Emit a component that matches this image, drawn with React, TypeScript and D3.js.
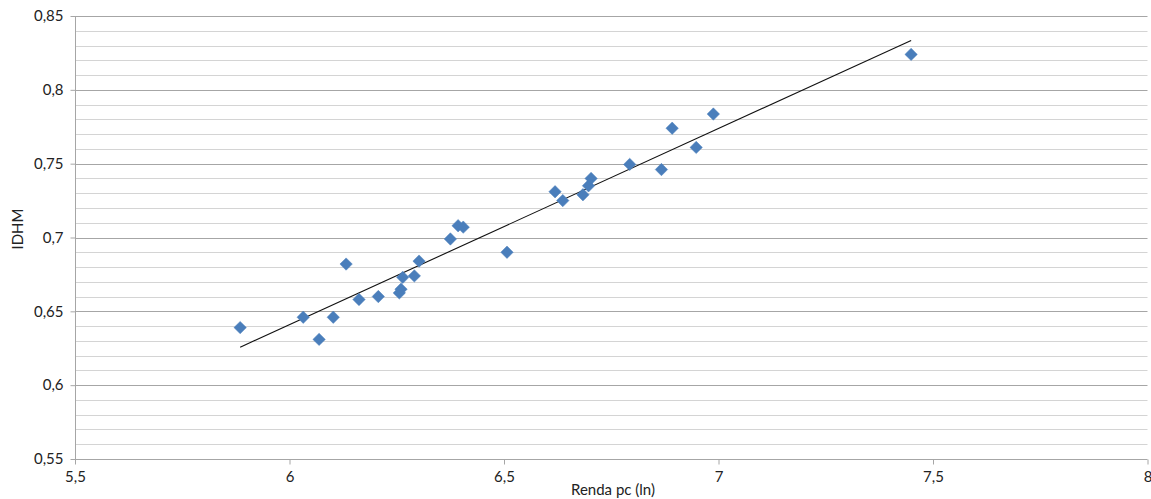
import React, { useEffect, useRef } from "react";
import * as d3 from "d3";

// Renda pc (ln) per municipality
const rendaLn = [
  5.885, 6.032, 6.069, 6.102, 6.132, 6.162, 6.207, 6.256, 6.26, 6.264,
  6.291, 6.302, 6.375, 6.393, 6.405, 6.507, 6.619, 6.637, 6.684, 6.697,
  6.703, 6.793, 6.867, 6.948, 6.892, 6.988, 7.449,
];
// IDHM for the same municipalities
const idhm = [
  0.639, 0.646, 0.631, 0.646, 0.682, 0.658, 0.66, 0.6625, 0.665, 0.673,
  0.674, 0.684, 0.699, 0.708, 0.707, 0.69, 0.731, 0.725, 0.729, 0.735,
  0.74, 0.7495, 0.746, 0.761, 0.774, 0.7836, 0.824,
];
const xTicks = [5.5, 6, 6.5, 7, 7.5, 8];
const yTicks = [0.55, 0.6, 0.65, 0.7, 0.75, 0.8, 0.85];

const W = 1151;
const H = 499;

const fmt = (v: number) => String(+v.toFixed(2)).replace(".", ",");

const App: React.FC = () => {
  const svgRef = useRef<SVGSVGElement | null>(null);

  useEffect(() => {
    const svg = d3.select(svgRef.current);
    svg.selectAll("*").remove();

    const margin = { top: 16, right: 3.5, bottom: 40, left: 75 };
    const x = d3.scaleLinear().domain([5.5, 8]).range([margin.left, W - margin.right]);
    const y = d3.scaleLinear().domain([0.55, 0.85]).range([H - margin.bottom, margin.top]);

    const font = "Lato, 'Open Sans', sans-serif";
    const fs = "15px";

    // minor gridlines every 0.01
    const minor = d3.range(0.56, 0.85, 0.01).filter(
      (v) => Math.abs(v * 20 - Math.round(v * 20)) > 0.01
    );
    svg
      .append("g")
      .selectAll("line")
      .data(minor)
      .enter()
      .append("line")
      .attr("x1", x(5.5))
      .attr("x2", x(8))
      .attr("y1", (d) => Math.round(y(d)) + 0.5)
      .attr("y2", (d) => Math.round(y(d)) + 0.5)
      .attr("stroke", "#d4d4d4")
      .attr("stroke-width", 1);

    // major gridlines
    svg
      .append("g")
      .selectAll("line")
      .data(yTicks.slice(1))
      .enter()
      .append("line")
      .attr("x1", x(5.5))
      .attr("x2", x(8))
      .attr("y1", (d) => Math.round(y(d)) + 0.5)
      .attr("y2", (d) => Math.round(y(d)) + 0.5)
      .attr("stroke", "#a6a6a6")
      .attr("stroke-width", 1);

    // axes
    const yAxis = svg
      .append("g")
      .attr("transform", `translate(${Math.round(x(5.5)) + 0.5},0)`)
      .call(
        d3.axisLeft(y).tickValues(yTicks).tickSize(5).tickPadding(7).tickFormat((d) => fmt(+d))
      );
    const xAxis = svg
      .append("g")
      .attr("transform", `translate(0,${Math.round(y(0.55)) + 0.5})`)
      .call(
        d3.axisBottom(x).tickValues(xTicks).tickSize(5).tickPadding(7).tickFormat((d) => fmt(+d))
      );
    [xAxis, yAxis].forEach((a) => {
      a.selectAll("path,line").attr("stroke", "#a6a6a6");
      a.selectAll("text")
        .attr("fill", "#222")
        .style("font-family", font)
        .style("font-size", fs);
    });
    xAxis.select(".domain").attr("d", `M${x(5.5)},0H${x(8)}`);
    yAxis.select(".domain").attr("d", `M0,${y(0.55)}V${y(0.85)}`);

    // trend line (least squares)
    const mx = d3.mean(rendaLn)!;
    const my = d3.mean(idhm)!;
    let sxy = 0;
    let sxx = 0;
    rendaLn.forEach((v, i) => {
      sxy += (v - mx) * (idhm[i] - my);
      sxx += (v - mx) * (v - mx);
    });
    const slope = sxy / sxx;
    const icpt = my - slope * mx;
    const [x0, x1] = d3.extent(rendaLn) as [number, number];
    svg
      .append("line")
      .attr("x1", x(x0))
      .attr("y1", y(icpt + slope * x0))
      .attr("x2", x(x1))
      .attr("y2", y(icpt + slope * x1))
      .attr("stroke", "#111")
      .attr("stroke-width", 1.1);

    // diamonds
    const r = 6.2;
    svg
      .append("g")
      .selectAll("path")
      .data(rendaLn.map((v, i) => [v, idhm[i]]))
      .enter()
      .append("path")
      .attr(
        "d",
        (d) => {
          const cx = x(d[0]);
          const cy = y(d[1]);
          return `M${cx},${cy - r}L${cx + r},${cy}L${cx},${cy + r}L${cx - r},${cy}Z`;
        }
      )
      .attr("fill", "#4a7ebb")
      .attr("stroke", "#4a7ebb")
      .attr("stroke-width", 0.5);

    // axis titles
    svg
      .append("text")
      .attr("x", 613)
      .attr("y", 495)
      .attr("text-anchor", "middle")
      .style("font-family", font)
      .style("font-size", fs)
      .attr("fill", "#222")
      .text("Renda pc (ln)");
    svg
      .append("text")
      .attr("transform", "translate(23,229) rotate(-90)")
      .attr("text-anchor", "middle")
      .style("font-family", font)
      .style("font-size", fs)
      .attr("fill", "#222")
      .text("IDHM");
  }, []);

  return (
    <svg
      ref={svgRef}
      width={W}
      height={H}
      style={{ position: "absolute", left: 0, top: 0, background: "#fff" }}
    />
  );
};

export default App;
